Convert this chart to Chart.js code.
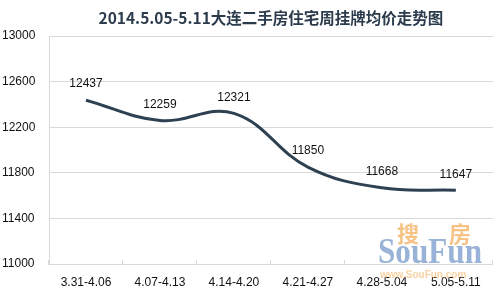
<!DOCTYPE html>
<html>
<head>
<meta charset="utf-8">
<script src="https://cdn.jsdelivr.net/npm/chart.js@4.4.1/dist/chart.umd.min.js"></script>
<style>
  html, body { margin: 0; padding: 0; background: #fff; }
  #wrap { width: 496px; height: 290px; position: relative; }
</style>
</head>
<body>
<div id="wrap"><canvas id="price"></canvas></div>
<script>
var weeks = ["3.31-4.06", "4.07-4.13", "4.14-4.20", "4.21-4.27", "4.28-5.04", "5.05-5.11"];
var avgPrice = [12437, 12259, 12321, 11850, 11668, 11647];
var chartTitle = "2014.5.05-5.11大连二手房住宅周挂牌均价走势图";

var numFont = "'Liberation Sans', Arial, sans-serif";

// title centred over the plot area
var titlePlugin = {
  id: 'titleText',
  afterDraw: function (chart) {
    var ctx = chart.ctx, a = chart.chartArea;
    ctx.save();
    ctx.font = "bold 15.5px 'Noto Sans CJK SC', sans-serif";
    ctx.fillStyle = "#2b3b4c";
    ctx.textAlign = "center";
    ctx.textBaseline = "middle";
    ctx.fillText(chartTitle, (a.left + a.right) / 2, 18);
    ctx.restore();
  }
};

// faint site watermark, bottom right
var markPlugin = {
  id: 'watermark',
  beforeDatasetsDraw: function (chart) {
    var ctx = chart.ctx;
    ctx.save();
    ctx.textAlign = "left";
    ctx.textBaseline = "alphabetic";
    ctx.globalAlpha = 0.8;
    ctx.fillStyle = "#f4b466";
    ctx.font = "bold 22px 'Noto Sans CJK SC', sans-serif";
    ctx.fillText("搜", 397, 242);
    ctx.fillText("房", 449, 242);
    ctx.fillStyle = "#7f9fcd";
    ctx.font = "bold 36px 'Liberation Serif', serif";
    ctx.fillText("SouFun", 378, 263, 104);
    ctx.globalAlpha = 0.6;
    ctx.fillStyle = "#f4b466";
    ctx.font = "bold 10px " + numFont;
    ctx.fillText("www.SouFun.com", 380, 278, 90);
    ctx.restore();
  }
};

// value labels above each point
var valuePlugin = {
  id: 'values',
  afterDatasetsDraw: function (chart) {
    var ctx = chart.ctx;
    var meta = chart.getDatasetMeta(0);
    ctx.save();
    ctx.font = "12px " + numFont;
    ctx.fillStyle = "#111";
    ctx.textAlign = "center";
    ctx.textBaseline = "middle";
    meta.data.forEach(function (pt, i) {
      ctx.fillText(String(avgPrice[i]), pt.x, pt.y - 16);
    });
    ctx.restore();
  }
};

new Chart(document.getElementById("price"), {
  type: 'line',
  data: {
    labels: weeks,
    datasets: [{
      data: avgPrice,
      borderColor: "#2e4152",
      borderWidth: 3,
      tension: 0.4,
      pointRadius: 0,
      fill: false
    }]
  },
  options: {
    responsive: true,
    maintainAspectRatio: false,
    animation: false,
    layout: { padding: { top: 36, left: 2, right: 3, bottom: 0 } },
    plugins: {
      legend: { display: false },
      title: { display: false },
      tooltip: { enabled: false }
    },
    scales: {
      x: {
        offset: true,
        // negative length puts the tick marks inside the plot, like the original
        grid: { display: true, drawOnChartArea: false, drawTicks: true, tickLength: -4, color: "#d9d9d9", offset: true },
        border: { color: "#d9d9d9" },
        ticks: { color: "#111", font: { size: 12, family: numFont }, padding: 15, maxRotation: 0 },
        afterFit: function (s) { s.height = 26; }
      },
      y: {
        min: 11000,
        max: 13000,
        ticks: {
          stepSize: 400,
          color: "#111",
          font: { size: 12, family: numFont },
          crossAlign: 'far',
          callback: function (v) { return String(v); }
        },
        grid: { color: "#d9d9d9", drawTicks: false },
        border: { color: "#d9d9d9" },
        afterFit: function (s) { s.width = 47; }
      }
    }
  },
  plugins: [titlePlugin, markPlugin, valuePlugin]
});
</script>
</body>
</html>
